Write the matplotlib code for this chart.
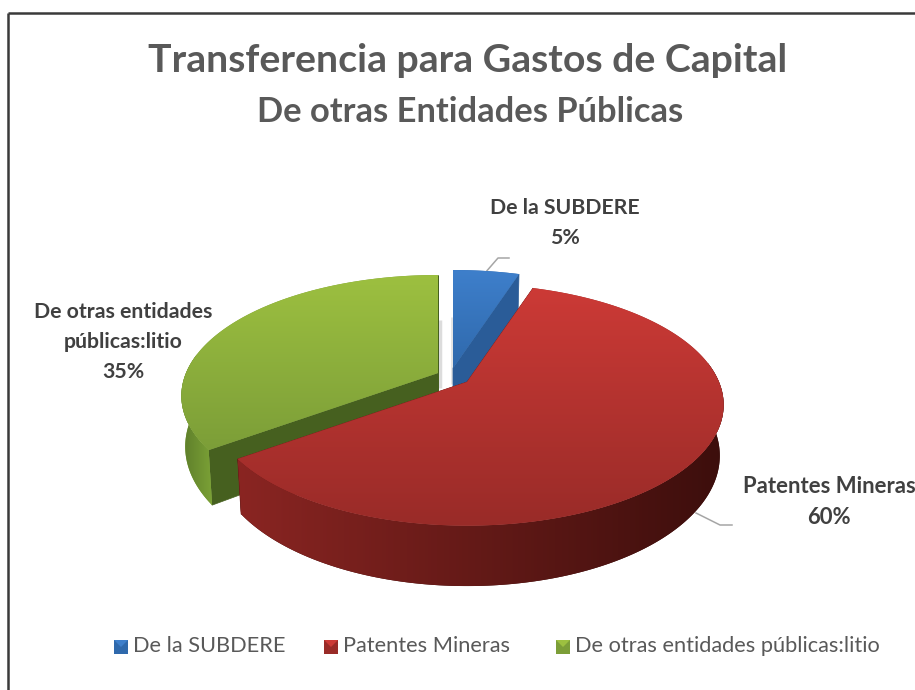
import numpy as np
import matplotlib
matplotlib.use("Agg")
import matplotlib.pyplot as plt
from matplotlib.patches import Polygon, Rectangle
from matplotlib.colors import to_rgb

categories = ["De la SUBDERE", "Patentes Mineras", "De otras entidades públicas:litio"]
values = [5, 60, 35]
data_labels = ["De la SUBDERE\n5%", "Patentes Mineras\n60%", "De otras entidades\npúblicas:litio\n35%"]
title_main = "Transferencia para Gastos de Capital"
title_sub = "De otras Entidades Públicas"

W, H = 915, 690
FONT = "Lato"
TXT = "#595959"
LBL = "#404040"

top_cols = [("#3E7FCB", "#2F69AC"), ("#CC3A36", "#992B28"), ("#9DC040", "#7C9E38")]
face_cols = ["#2A5C98", "#7A1E1C", "#46601F"]
wall_cols = [("#2A5C98", "#2A5C98"), ("#8A2522", "#3C0E0C"), ("#7BA136", "#5C7C2A")]
centers = [(453, 368), (467, 382), (438, 373)]
legend_x = [114, 324, 556]

RX, RY, K, DEPTH, TAPER = 252, 116.5, 0.189, 49, 0.985

fig = plt.figure(figsize=(W / 100, H / 100), dpi=100)
ax = fig.add_axes([0, 0, 1, 1])
ax.set_xlim(0, W)
ax.set_ylim(H, 0)
ax.axis("off")


def project(theta, r, c, down=False):
    u, v = r * np.sin(theta), r * np.cos(theta)
    p = 1 / (1 + K * v)
    sx = TAPER if down else 1.0
    x = c[0] + RX * u * p * sx
    y = c[1] - RY * v * p + (DEPTH * p if down else 0)
    return x, y


def gradient_fill(pts, c0, c1, zorder, horizontal=False):
    poly = Polygon(pts, fc=c1, ec="none", zorder=zorder)
    ax.add_patch(poly)
    a, b = np.array(to_rgb(c0)), np.array(to_rgb(c1))
    t = np.linspace(0, 1, 256)
    grad = (t[:, None, None] * (b - a) + a)
    if horizontal:
        grad = grad.transpose(1, 0, 2)
    im = ax.imshow(grad, extent=(pts[:, 0].min(), pts[:, 0].max(), pts[:, 1].max(), pts[:, 1].min()),
                   aspect="auto", zorder=zorder + 0.01)
    im.set_clip_path(poly)


fracs = np.array(values, float) / sum(values)
edges = np.concatenate([[0], np.cumsum(fracs)]) * 2 * np.pi


def draw_slice(i, zbase):
    c = centers[i]
    th = np.linspace(edges[i], edges[i + 1], 240)
    # cut faces
    for end in (edges[i], edges[i + 1]):
        x0, y0 = project(end, 0, c)
        x1, y1 = project(end, 1, c)
        x2, y2 = project(end, 1, c, True)
        x3, y3 = project(end, 0, c, True)
        ax.add_patch(Polygon([(x0, y0), (x1, y1), (x2, y2), (x3, y3)],
                             fc=face_cols[i], ec=face_cols[i], lw=0.5, zorder=zbase))
    # outer wall, visible on the near half
    near = th[np.cos(th) <= 0.17]
    if len(near) > 1:
        xt, yt = project(near, 1, c)
        xb, yb = project(near, 1, c, True)
        wall = np.vstack([np.column_stack([xt, yt]), np.column_stack([xb, yb])[::-1]])
        if i == 2:
            gradient_fill(wall, wall_cols[i][1], wall_cols[i][0], zbase + 0.1, horizontal=True)
        else:
            gradient_fill(wall, wall_cols[i][0], wall_cols[i][1], zbase + 0.1, horizontal=True)
    # top surface with vertical gradient
    xt, yt = project(th, 1, c)
    ax0, ay0 = project(0.0, 0, c)
    pts = np.vstack([[ax0, ay0], np.column_stack([xt, yt])])
    gradient_fill(pts, top_cols[i][0], top_cols[i][1], zbase + 0.2)


# frame lines (top and left only show in the reference)
ax.plot([8, 8], [13, H], color="#3A3A3A", lw=1.8, solid_capstyle="butt")
ax.plot([8, W], [13, 13], color="#3A3A3A", lw=1.8, solid_capstyle="butt")

# soft shadows beside the exploded gap
ax.plot([440, 440], [320, 388], color="#DCDCDC", lw=2.5, zorder=1, solid_capstyle="butt")
ax.plot([452, 452], [317, 384], color="#E4E4E4", lw=2, zorder=1, solid_capstyle="butt")

draw_slice(0, 2)
draw_slice(2, 3)
draw_slice(1, 4)
ax.set_xlim(0, W)
ax.set_ylim(H, 0)

# titles
ax.text(468, 61, title_main, ha="center", va="center", fontsize=28.3, fontweight="bold", color=TXT, family=FONT)
ax.text(470, 112, title_sub, ha="center", va="center", fontsize=24.8, fontweight="bold", color=TXT, family=FONT)

# data labels
LS = 1.6
ax.text(565, 223, data_labels[0], ha="center", va="center", fontsize=15.3, fontweight="bold", color=LBL, family=FONT, linespacing=LS)
ax.text(829, 502, data_labels[1], ha="center", va="center", fontsize=15.9, fontweight="bold", color=LBL, family=FONT, linespacing=LS - 0.05)
ax.text(123, 342, data_labels[2], ha="center", va="center", fontsize=15.3, fontweight="bold", color=LBL, family=FONT, linespacing=LS)

# leader lines
ax.plot([485, 498, 509], [273, 258, 258], color="#A6A6A6", lw=1.1, zorder=1)
ax.plot([696, 720, 732], [513, 525, 525], color="#A6A6A6", lw=1.1, zorder=1)

# legend
for i, name in enumerate(categories):
    x = legend_x[i]
    ax.add_patch(Rectangle((x, 640), 14, 14, fc=top_cols[i][1], ec="none"))
    ax.add_patch(Polygon([(x, 640), (x + 14, 640), (x + 7, 647)], fc=top_cols[i][0], ec="none"))
    ax.text(x + 19, 646.5, name, ha="left", va="center", fontsize=15.7, color=TXT, family=FONT)

fig.savefig("out.png", dpi=100)
